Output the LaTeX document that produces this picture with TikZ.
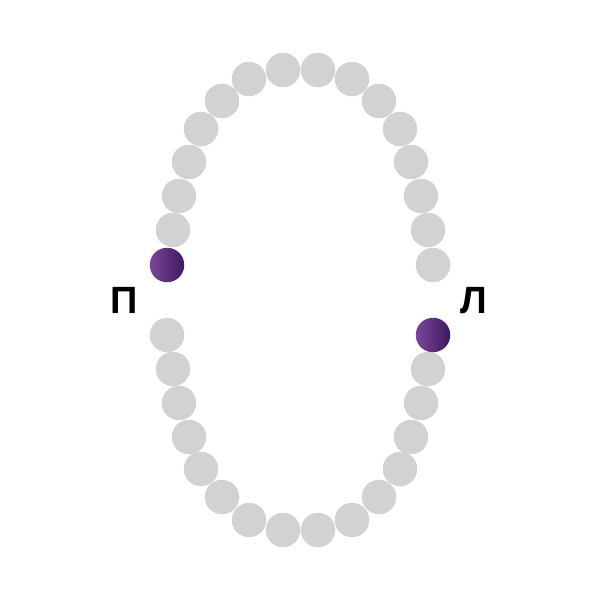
\documentclass[tikz,border=0pt]{standalone}
\usepackage{fontspec}
\newfontfamily\labelfont{Liberation Sans}
\definecolor{beadgrey}{RGB}{209,210,212}
\definecolor{plum light}{RGB}{124,69,155}
\definecolor{plum dark}{RGB}{62,26,94}

\begin{document}
\begin{tikzpicture}[x=1pt,y=-1pt,
bead/.style={circle, inner sep=0pt, minimum size=34.5pt, fill=beadgrey},
mark bead/.style={circle, inner sep=0pt, minimum size=34.5pt, left color=plum light, right color=plum dark},
side label/.style={inner sep=0pt, font=\labelfont\bfseries\fontsize{38}{40}\selectfont}]
\useasboundingbox (0,0) rectangle (600,600);
% upper arc
\foreach \x/\y [count=\i] in {173/230,179/196,189/162,201/129,222/101,249/79,283/70,
  318/70,352/79,379/101,400/129,411/162,421/196,428/230,433/265}
  \node[bead] (u\i) at (\x,\y) {};
% lower arc
\foreach \x/\y [count=\i] in {167/335,173/369,179/403,189/437,201/469,222/497,249/520,283/530,
  318/530,352/520,379/497,400/469,411/437,421/403,428/369}
  \node[bead] (d\i) at (\x,\y) {};
\node[mark bead] (pbead) at (167,265) {};
\node[mark bead] (lbead) at (433,335) {};
\node[side label] (p) at (124.5,300.5) {П};
\node[side label] (l) at (473.5,300.5) {Л};
\end{tikzpicture}
\end{document}
